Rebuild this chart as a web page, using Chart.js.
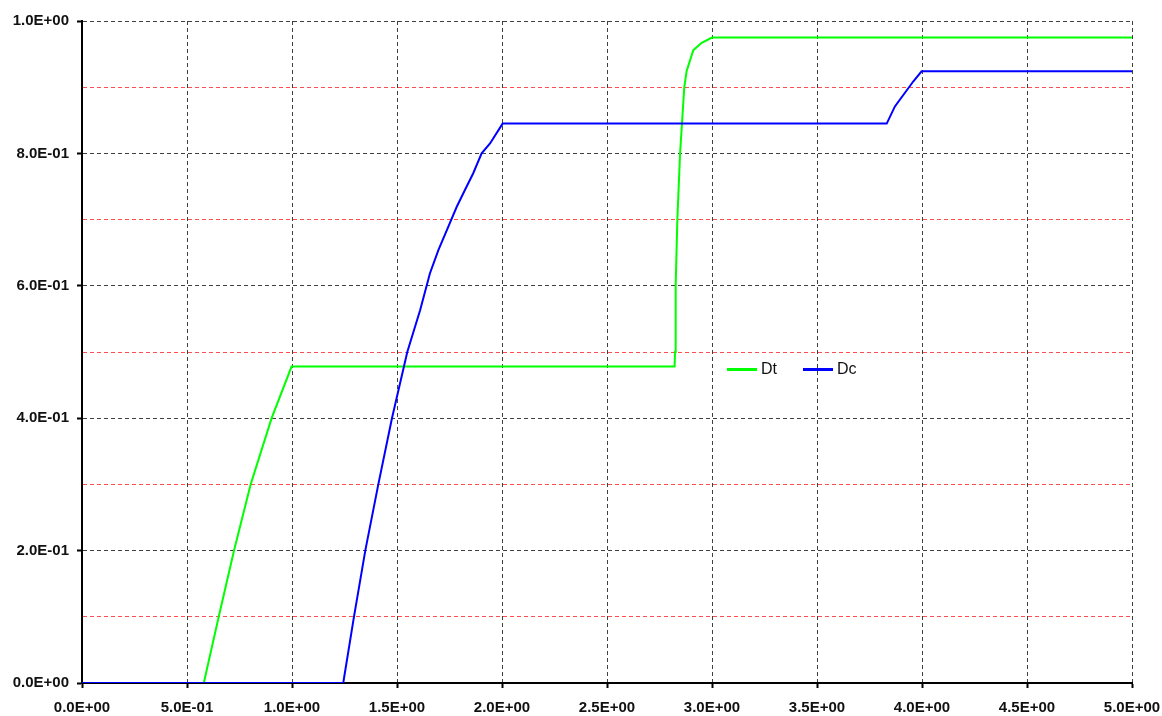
<!DOCTYPE html>
<html>
<head>
<meta charset="utf-8">
<title>Dt / Dc</title>
<script src="https://cdn.jsdelivr.net/npm/chart.js@4.4.0/dist/chart.umd.min.js"></script>
<style>
  body { margin: 0; background: #fff; }
  #wrap { position: relative; width: 1162px; height: 716px; }
  #legend { position: absolute; left: 727px; top: 360px; font: 16px 'Liberation Sans', Arial, sans-serif; color: #111; white-space: nowrap; }
  #legend span.item { display: inline-block; margin-right: 26px; }
  #legend i { display: inline-block; width: 30px; height: 3px; vertical-align: middle; margin-right: 4px; }
</style>
</head>
<body>
<div id="wrap">
  <canvas id="myChart" width="1162" height="716"></canvas>
  <div id="legend"></div>
</div>
<script>
'use strict';

// GLOBAL VARIABLES
let seriesNames = ['Dt', 'Dc'];
let seriesColors = ['#00ff00', '#0000ff'];

let dtX = [0, 0.58, 0.651, 0.724, 0.803, 0.903, 0.998, 2.822, 2.824, 2.827, 2.835, 2.848, 2.857, 2.868, 2.879, 2.911, 2.951, 3.0, 5.0];
let dtY = [0, 0, 0.1, 0.2, 0.3, 0.4, 0.478, 0.478, 0.5, 0.6, 0.7, 0.8, 0.845, 0.9, 0.924, 0.956, 0.967, 0.975, 0.975];

let dcX = [0, 1.244, 1.295, 1.349, 1.411, 1.476, 1.549, 1.61, 1.657, 1.697, 1.744, 1.784, 1.824, 1.863, 1.903, 1.943, 2.003, 3.832, 3.871, 3.959, 3.998, 5.0];
let dcY = [0, 0, 0.1, 0.2, 0.3, 0.4, 0.5, 0.563, 0.619, 0.654, 0.689, 0.719, 0.745, 0.770, 0.8, 0.815, 0.845, 0.845, 0.871, 0.909, 0.924, 0.924];

let xMin = 0, xMax = 5, xStep = 0.5;
let yMin = 0, yMax = 1, yStep = 0.1;

// FUNCTIONS

function toPoints(xs, ys) {
  let pts = [];
  for (let i = 0; i < xs.length; i++) {
    pts.push({ x: xs[i], y: ys[i] });
  }
  return pts;
}

// 0.2 -> "2.0E-01"
function sciLabel(v) {
  if (Math.abs(v) < 1e-9) return '0.0E+00';
  let e = Math.floor(Math.log10(Math.abs(v)) + 1e-9);
  let m = v / Math.pow(10, e);
  let sign = e < 0 ? '-' : '+';
  let ee = String(Math.abs(e)).padStart(2, '0');
  return m.toFixed(1) + 'E' + sign + ee;
}

function isMajorY(value) {
  return Math.round(value * 10) % 2 === 0;
}

function renderLegend() {
  let legend = document.getElementById('legend');
  for (let i = 0; i < seriesNames.length; i++) {
    let span = document.createElement('span');
    span.className = 'item';
    let line = document.createElement('i');
    line.style.background = seriesColors[i];
    span.appendChild(line);
    span.appendChild(document.createTextNode(seriesNames[i]));
    legend.appendChild(span);
  }
}

// CHART.JS
function renderChart() {
  const tickFont = { family: "'Liberation Sans', Arial, sans-serif", size: 15, weight: 'bold' };

  const data = {
    datasets: [
      {
        label: seriesNames[0],
        data: toPoints(dtX, dtY),
        borderColor: seriesColors[0],
        borderWidth: 2,
        order: 1
      },
      {
        label: seriesNames[1],
        data: toPoints(dcX, dcY),
        borderColor: seriesColors[1],
        borderWidth: 2,
        order: 0
      }
    ]
  };

  const config = {
    type: 'scatter',
    data: data,
    options: {
      responsive: false,
      animation: false,
      showLine: true,
      elements: {
        point: { radius: 0 },
        line: { tension: 0 }
      },
      layout: { padding: { left: 0, right: 30, top: 21, bottom: 0 } },
      plugins: {
        legend: { display: false },
        tooltip: { enabled: false }
      },
      scales: {
        x: {
          type: 'linear',
          min: xMin,
          max: xMax,
          ticks: {
            stepSize: xStep,
            color: '#111',
            font: tickFont,
            padding: 11,
            maxRotation: 0,
            callback: function (value) { return sciLabel(value); }
          },
          grid: {
            color: 'rgba(0,0,0,0.75)',
            lineWidth: 1,
            tickLength: 5,
            tickColor: '#000',
            tickWidth: 2
          },
          border: { display: true, color: '#000', width: 2, dash: [4, 3] },
          afterFit: function (scale) {
            scale.height = 33;
            scale.paddingLeft = 0;
            scale.paddingRight = 0;
          }
        },
        y: {
          type: 'linear',
          min: yMin,
          max: yMax,
          ticks: {
            stepSize: yStep,
            color: '#111',
            font: tickFont,
            padding: 8,
            autoSkip: false,
            callback: function (value) { return isMajorY(value) ? sciLabel(value) : ''; }
          },
          grid: {
            color: function (ctx) { return isMajorY(ctx.tick.value) ? 'rgba(0,0,0,0.75)' : 'rgba(255,0,0,0.7)'; },
            lineWidth: 1,
            tickLength: 5,
            tickColor: function (ctx) { return isMajorY(ctx.tick.value) ? '#000' : 'rgba(0,0,0,0)'; },
            tickWidth: 2
          },
          border: { display: true, color: '#000', width: 2, dash: [4, 3] },
          afterFit: function (scale) {
            scale.width = 82;
            scale.paddingTop = 0;
            scale.paddingBottom = 0;
          }
        }
      }
    }
  };

  const myChart = new Chart(
    document.getElementById('myChart'),
    config
  );
}

// EXCUTABLE CODE
renderLegend();
renderChart();
</script>
</body>
</html>
